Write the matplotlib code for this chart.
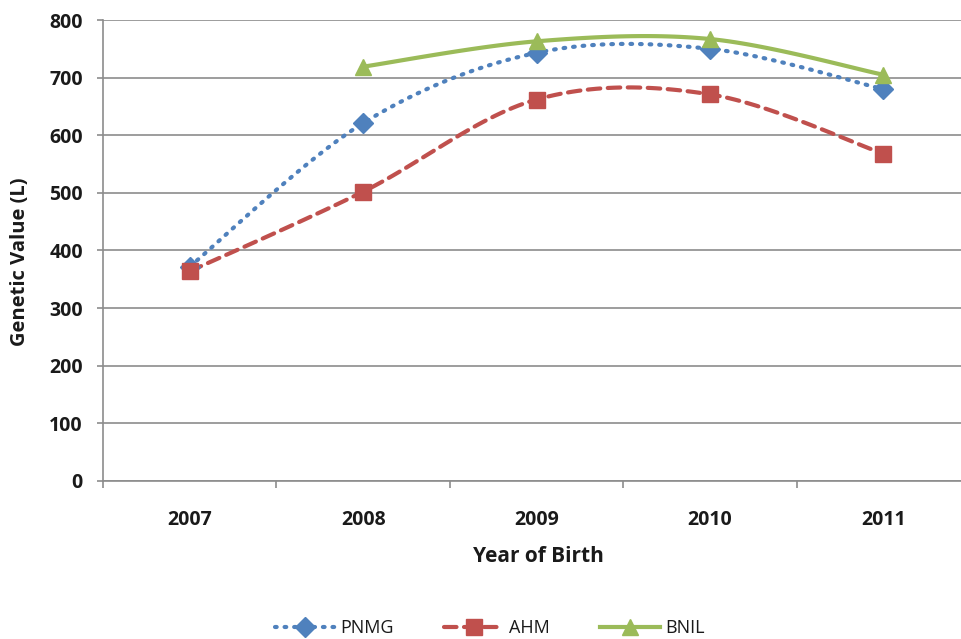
import matplotlib
matplotlib.use("Agg")
import matplotlib.pyplot as plt
import numpy as np

years = ["2007", "2008", "2009", "2010", "2011"]
pnmg = [372, 621, 743, 750, 680]
ahm = [364, 502, 662, 671, 568]
bnil = [None, 719, 763, 767, 705]
yticks = [0, 100, 200, 300, 400, 500, 600, 700, 800]

def smooth(xs, ys, n=30):
    # Excel-like smoothed line (Catmull-Rom style bezier)
    pts = [(x, y) for x, y in zip(xs, ys) if y is not None]
    px = np.array([p[0] for p in pts], float)
    py = np.array([p[1] for p in pts], float)
    outx, outy = [], []
    m = len(px)
    for i in range(m - 1):
        i0 = max(i - 1, 0); i3 = min(i + 2, m - 1)
        p0 = np.array([px[i0], py[i0]]); p1 = np.array([px[i], py[i]])
        p2 = np.array([px[i + 1], py[i + 1]]); p3 = np.array([px[i3], py[i3]])
        c1 = p1 + (p2 - p0) / 6.0
        c2 = p2 - (p3 - p1) / 6.0
        t = np.linspace(0, 1, n)[:, None]
        b = ((1 - t) ** 3) * p1 + 3 * ((1 - t) ** 2) * t * c1 + 3 * (1 - t) * t ** 2 * c2 + t ** 3 * p2
        if i > 0:
            b = b[1:]
        outx.extend(b[:, 0]); outy.extend(b[:, 1])
    return outx, outy, px, py

fig = plt.figure(figsize=(9.62, 6.39), dpi=100)
ax = fig.add_axes([103 / 962, 1 - 481 / 639, 867 / 962, 461 / 639])

x = np.arange(len(years))
series = [
    ("PNMG", pnmg, "#4F81BD", (0, (0.4, 1.9)), "D", 10),
    ("AHM", ahm, "#C0504D", (0, (3, 1.8)), "s", 11),
    ("BNIL", bnil, "#9BBB59", "-", "^", 12),
]
handles = []
for name, vals, col, ls, mk, ms in series:
    sx, sy, px, py = smooth(x, vals)
    ax.plot(sx, sy, color=col, lw=3, linestyle=ls, dash_capstyle="round", zorder=3)
    ax.plot(px, py, linestyle="none", marker=mk, color=col, markersize=ms, zorder=4)
    h, = ax.plot([], [], color=col, lw=3, linestyle=ls, marker=mk, markersize=ms,
                 dash_capstyle="round", label=name)
    handles.append(h)

ax.set_xlim(-0.5, len(years) - 0.5)
ax.set_ylim(0, 800)
ax.set_yticks(yticks)
ax.set_yticklabels([str(v) for v in yticks])
ax.yaxis.grid(True, color="#8C8C8C", lw=1.2)
ax.set_axisbelow(True)
ax.set_xticks(x)
ax.set_xticklabels(years)
ax.set_xticks(np.arange(len(years) + 1) - 0.5, minor=True)
ax.tick_params(axis="x", which="major", length=0, pad=21)
ax.tick_params(axis="x", which="minor", length=5, color="#8C8C8C", width=1.2)
ax.tick_params(axis="y", length=4.5, color="#8C8C8C", width=1.2, pad=10)
for lab in ax.get_xticklabels() + ax.get_yticklabels():
    lab.set_fontfamily("Open Sans")
    lab.set_fontweight("bold")
    lab.set_fontsize(14)
    lab.set_color("#1A1A1A")
for s in ["top", "right"]:
    ax.spines[s].set_visible(False)
for s in ["left", "bottom"]:
    ax.spines[s].set_color("#8C8C8C")
    ax.spines[s].set_linewidth(1.2)

ax.set_xlabel("Year of Birth", fontfamily="Open Sans", fontweight="bold", fontsize=15,
              color="#1A1A1A")
ax.set_ylabel("Genetic Value (L)", fontfamily="Open Sans", fontweight="bold", fontsize=14.5,
              color="#1A1A1A")
ax.xaxis.set_label_coords((538 - 103) / 867, (481 - 557) / 461)
ax.yaxis.set_label_coords((20 - 103) / 867, (481 - 262) / 461)
ax.xaxis.label.set_va("center")
ax.yaxis.label.set_va("center")

fig.legend(handles=handles, loc="center", bbox_to_anchor=(490 / 962, 1 - 628 / 639),
           ncol=3, frameon=False, handlelength=3.3, columnspacing=2.8,
           prop={"family": "Open Sans", "size": 13}, handletextpad=0.3,
           labelcolor="#1A1A1A")

fig.savefig("out.png", dpi=100)
